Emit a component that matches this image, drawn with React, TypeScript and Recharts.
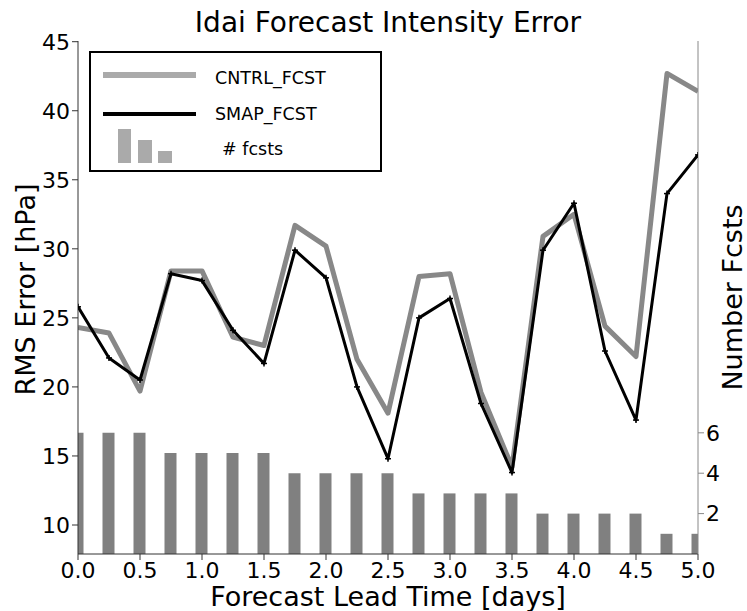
import { ComposedChart, Bar, Line, XAxis, YAxis } from 'recharts'

const leadDays = [0, 0.25, 0.5, 0.75, 1.0, 1.25, 1.5, 1.75, 2.0, 2.25, 2.5, 2.75, 3.0, 3.25, 3.5, 3.75, 4.0, 4.25, 4.5, 4.75, 5.0]
const cntrlFcst = [24.3, 23.9, 19.7, 28.4, 28.4, 23.6, 23.0, 31.7, 30.2, 22.0, 18.1, 28.0, 28.2, 19.6, 14.2, 30.9, 32.5, 24.4, 22.2, 42.7, 41.4]
const smapFcst = [25.8, 22.1, 20.5, 28.2, 27.7, 24.1, 21.7, 29.9, 27.9, 20.0, 14.8, 25.0, 26.4, 18.8, 13.8, 29.9, 33.3, 22.6, 17.6, 34.0, 36.8]
const numFcsts = [6, 6, 6, 5, 5, 5, 5, 4, 4, 4, 4, 3, 3, 3, 3, 2, 2, 2, 2, 1, 1]

const xTicks = [0, 0.5, 1, 1.5, 2, 2.5, 3, 3.5, 4, 4.5, 5]
const leftTicks = [10, 15, 20, 25, 30, 35, 40, 45]
const rightTicks = [2, 4, 6]

const data = leadDays.map((t, i) => ({
  t,
  cntrl: cntrlFcst[i],
  smap: smapFcst[i],
  n: numFcsts[i],
}))

const FONT = "'DejaVu Sans', sans-serif"
const tickStyle = { fontSize: 22, fill: '#000', fontFamily: FONT }
const labelStyle = { fontSize: 27, fill: '#000', fontFamily: FONT, textAnchor: 'middle' as const }

function PlusDot(props: any) {
  const { cx, cy } = props
  if (cx == null || cy == null) return null
  return (
    <g stroke="#000" strokeWidth={1.5}>
      <line x1={cx - 3} y1={cy} x2={cx + 3} y2={cy} />
      <line x1={cx} y1={cy - 3} x2={cx} y2={cy + 3} />
    </g>
  )
}

// legend drawn on top of the plot, like matplotlib's upper-left box
function LegendBox() {
  return (
    <div
      style={{
        position: 'absolute',
        left: 89,
        top: 51,
        width: 293,
        height: 121,
        border: '2px solid #000',
        boxSizing: 'border-box',
        background: '#fff',
      }}
    >
      <svg width={289} height={117} style={{ position: 'absolute', left: 0, top: 0, fontFamily: FONT }}>
        <line x1={12} y1={22} x2={105} y2={22} stroke="#aaa" strokeWidth={6} />
        <text x={124} y={31} fontSize={17.5} fill="#000">CNTRL_FCST</text>
        <line x1={12} y1={61} x2={105} y2={61} stroke="#000" strokeWidth={4} />
        <text x={124} y={67} fontSize={17.5} fill="#000">SMAP_FCST</text>
        <rect x={27} y={76} width={13} height={34} fill="#aaa" />
        <rect x={47} y={87} width={14} height={23} fill="#aaa" />
        <rect x={67} y={98} width={14} height={12} fill="#aaa" />
        <text x={131} y={102} fontSize={17.5} fill="#000"># fcsts</text>
      </svg>
    </div>
  )
}

export default function App() {
  return (
    <div style={{ position: 'absolute', left: 0, top: 0, width: 747, height: 611, background: '#fff' }}>
      <div
        style={{
          position: 'absolute',
          left: 78,
          width: 620,
          top: 6,
          textAlign: 'center',
          fontFamily: FONT,
          fontSize: 28,
          lineHeight: 'normal',
          color: '#000',
        }}
      >
        Idai Forecast Intensity Error
      </div>
      <ComposedChart
        width={747}
        height={611}
        data={data}
        margin={{ top: 41, right: 0, left: 0, bottom: 0 }}
        style={{ position: 'absolute', left: 0, top: 0 }}
      >
        <XAxis
          dataKey="t"
          type="number"
          domain={[0, 5]}
          ticks={xTicks}
          allowDataOverflow
          tickFormatter={(v: number) => v.toFixed(1)}
          height={57}
          tickSize={6}
          tickMargin={2}
          stroke="#333"
          tick={tickStyle}
          label={{ value: 'Forecast Lead Time [days]', position: 'insideBottom', offset: 5, style: labelStyle }}
        />
        <XAxis xAxisId="top" dataKey="t" type="number" domain={[0, 5]} orientation="top" height={0} tick={false} tickLine={false} stroke="#333" />
        <YAxis
          yAxisId="left"
          domain={[7.9, 45.05]}
          ticks={leftTicks}
          allowDataOverflow
          width={78}
          tickSize={6}
          tickMargin={2}
          stroke="#333"
          tick={tickStyle}
          label={{ value: 'RMS Error [hPa]', angle: -90, position: 'center', dx: -14, dy: -8, style: labelStyle }}
        />
        <YAxis
          yAxisId="right"
          orientation="right"
          domain={[0, 25.4]}
          ticks={rightTicks}
          allowDataOverflow
          width={49}
          tickSize={6}
          tickMargin={2}
          stroke="#888"
          tick={tickStyle}
          label={{ value: 'Number Fcsts', angle: -90, position: 'center', dx: 10, dy: 0, style: labelStyle }}
        />
        <Bar yAxisId="right" dataKey="n" fill="#808080" barSize={12} isAnimationActive={false} />
        <Line
          yAxisId="left"
          type="linear"
          dataKey="cntrl"
          stroke="#888"
          strokeWidth={5}
          strokeLinejoin="round"
          dot={false}
          isAnimationActive={false}
        />
        <Line
          yAxisId="left"
          type="linear"
          dataKey="smap"
          stroke="#000"
          strokeWidth={3}
          strokeLinejoin="round"
          dot={<PlusDot />}
          isAnimationActive={false}
        />
      </ComposedChart>
      <LegendBox />
    </div>
  )
}
